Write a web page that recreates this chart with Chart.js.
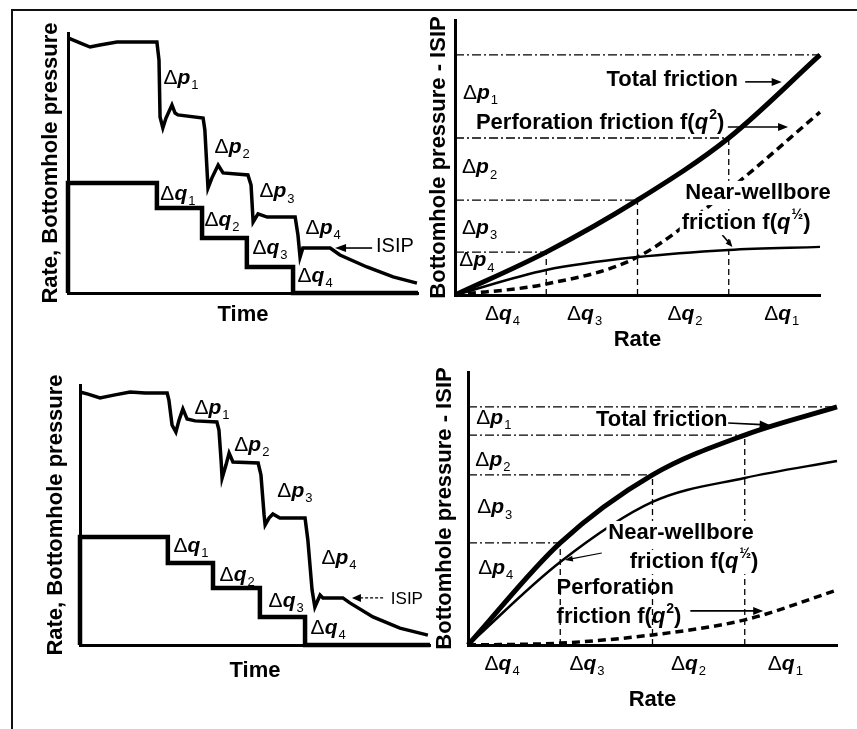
<!DOCTYPE html>
<html>
<head>
<meta charset="utf-8">
<script src="https://cdn.jsdelivr.net/npm/chart.js@4"></script>
<style>
  html, body { margin: 0; background: #fff; }
  body { width: 857px; height: 729px; position: relative; overflow: hidden; }
  #frame { position: absolute; left: 11px; top: 9px; width: 846px; height: 720px;
           border-left: 2px solid #111; border-top: 2px solid #111; }
  .panel { position: absolute; }
</style>
</head>
<body>
<div id="frame"></div>
<div class="panel" id="p1"><canvas id="c1"></canvas></div>
<div class="panel" id="p2"><canvas id="c2"></canvas></div>
<div class="panel" id="p3"><canvas id="c3"></canvas></div>
<div class="panel" id="p4"><canvas id="c4"></canvas></div>
<script>
// ---- data (arbitrary units) ----
// top-left: step-rate test, bottomhole pressure vs time
const timeTop = [0, 3.4, 6.3, 9.1, 14, 18.6, 25.4, 26, 26.3, 27.1, 28, 29.7, 30.6, 31.4, 38.6, 39.1, 40, 41.1, 42.9, 44.3,
                 51.4, 52.3, 52.9, 54.3, 56.9, 64.9, 65.7, 66.3, 67.1, 74.9, 77.7, 85.4, 92.9, 99.7];
const pressTop = [98.1, 96.2, 94.6, 95.4, 96.5, 96.5, 96.5, 89.6, 67.7, 63.5, 67.3, 72.3, 69.2, 68.5, 67.3, 62.7, 40.4, 44.2, 49.2, 46.2,
                  45.4, 41.5, 27.3, 30.4, 29.2, 29.2, 22.3, 13.8, 17.3, 17.3, 14.6, 10, 6.2, 3.8];
const stepTimeTop = [0, 0, 25.4, 38.3, 51.1, 64.3, 100];
const stepRateTop = [0, 42.3, 32.7, 21.2, 10, 0, 0];

// bottom-left: same test, second case
const timeBot = [0, 2.3, 5.7, 10, 14.3, 18.6, 24.9, 25.4, 26.3, 27.4, 28.3, 29.4, 30.6, 32.9, 39.1, 39.7, 40.3, 40.6, 41.7, 42.6,
                 43.7, 50.9, 51.7, 52.6, 52.9, 54, 55.1, 57.1, 64.3, 65.1, 66.3, 67.1, 68.6, 69.4, 75.1, 77.1, 83.7, 91.4, 99.4];
const pressBot = [97.3, 96.5, 95, 96.2, 97.3, 96.9, 96.9, 94.2, 84.6, 81.9, 86.5, 90.8, 86.9, 86.2, 85.8, 82.7, 71.2, 64.2, 69.2, 73.8,
                  70.4, 70, 65.4, 50, 46.2, 48.8, 50.4, 48.8, 48.8, 40.4, 21.2, 14.6, 19.2, 18.1, 18.1, 16.2, 10.8, 6.5, 3.8];
const stepTimeBot = [0, 0, 25.1, 38, 51.4, 64.3, 100];
const stepRateBot = [0, 41.5, 31.5, 21.9, 10.8, 0, 0];

// right panels: friction vs rate at the rate steps
const rateSteps = [0, 1, 2, 3, 4];
const totalTop = [0, 15.6, 34.5, 57.1, 87.3];
const nearTop  = [0, 9.1, 13.8, 16.4, 17.5];
const perfTop  = [0, 4, 13.8, 38.2, 66.5];
const totalBot = [0, 37.4, 62.3, 76.9, 87.2];
const nearBot  = [0, 30.4, 52.4, 61.2, 67.4];
const perfBot  = [0, 0.7, 3.7, 9.2, 20.1];

// rate tick labels (Δq4 at low rate ... Δq1 at high rate)
const rateTickLabels = ['Δ*q*_4', 'Δ*q*_3', 'Δ*q*_2', 'Δ*q*_1'];
const rateTickPosTop = [0.52, 1.42, 2.52, 3.58];
const rateTickPosBot = [0.37, 1.29, 2.39, 3.44];

// ---- layout ----
const FONT = '"Liberation Sans", Arial, Helvetica, sans-serif';
const TS = 22, LH = TS * 1.2;
const panels = {
  c1: { box: [20, 14, 432, 340],  area: [68, 33, 418, 293],  yTitle: 51,  xTitle: 315 },
  c2: { box: [415, 12, 852, 362], area: [455, 20, 820, 295], yTitle: 439, xTitle: 340 },
  c3: { box: [24, 364, 440, 718], area: [80, 385, 430, 645], yTitle: 56,  xTitle: 671 },
  c4: { box: [425, 362, 852, 725],area: [468, 372, 837, 645],yTitle: 445, xTitle: 700 }
};

const xy = (xs, ys) => xs.map((x, i) => ({ x: x, y: ys[i] }));

function line(data, width, dash, extra) {
  return Object.assign({ data: data, borderColor: '#000', borderWidth: width, borderDash: dash || [],
    pointRadius: 0, fill: false, tension: 0, clip: false }, extra || {});
}

function guides(q, tot) {
  const ds = [];
  for (let i = 1; i < q.length; i++) {
    ds.push(line([{ x: 0, y: tot[i] }, { x: q[i], y: tot[i] }], 1.3, [9, 3, 2, 3]));
    if (i < q.length - 1) ds.push(line([{ x: q[i], y: 0 }, { x: q[i], y: tot[i] }], 1.3, [6, 4]));
  }
  return ds;
}

// text with italic letters (*q*), subscripts (_1) and superscripts (^2)
function parts(str) {
  const out = [], re = /\*([^*]+)\*|_(\S)|\^(\S)/g;
  let last = 0, m;
  while ((m = re.exec(str))) {
    if (m.index > last) out.push({ t: str.slice(last, m.index), k: 'n' });
    out.push(m[1] ? { t: m[1], k: 'i' } : m[2] ? { t: m[2], k: 'sub' } : { t: m[3], k: 'sup' });
    last = re.lastIndex;
  }
  if (last < str.length) out.push({ t: str.slice(last), k: 'n' });
  return out;
}

function drawRich(ctx, str, cx, cy, o) {
  const size = o.size || 21, w = o.weight || 'normal';
  const fontOf = k => k === 'i' ? `italic bold ${size}px ${FONT}`
    : k === 'n' ? `${w} ${size}px ${FONT}` : `${w} ${Math.round(size * 0.62)}px ${FONT}`;
  const ps = parts(str);
  let total = 0;
  ps.forEach(p => { ctx.font = fontOf(p.k); p.w = ctx.measureText(p.t).width + (p.k === 'i' ? 1 : 0); total += p.w; });
  let x = o.align === 'left' ? cx : cx - total / 2;
  if (o.bg) { ctx.fillStyle = '#fff'; ctx.fillRect(x - 2, cy - size * 0.55, total + 4, size * 1.1); }
  ctx.fillStyle = '#000';
  ctx.textAlign = 'left';
  ctx.textBaseline = 'middle';
  ps.forEach(p => {
    ctx.font = fontOf(p.k);
    const dy = p.k === 'sub' ? size * 0.35 : p.k === 'sup' ? -size * 0.35 : 0;
    ctx.fillText(p.t, x, cy + dy);
    x += p.w;
  });
}

function drawArrow(ctx, x1, y1, x2, y2, a) {
  ctx.save();
  ctx.strokeStyle = '#000'; ctx.fillStyle = '#000';
  ctx.lineWidth = a.width || 1.6;
  ctx.setLineDash(a.dash || []);
  const ang = Math.atan2(y2 - y1, x2 - x1), hl = a.head || 10, hw = a.headW || 4;
  ctx.beginPath(); ctx.moveTo(x1, y1);
  ctx.lineTo(x2 - Math.cos(ang) * hl * 0.8, y2 - Math.sin(ang) * hl * 0.8); ctx.stroke();
  ctx.setLineDash([]);
  ctx.beginPath(); ctx.moveTo(x2, y2);
  ctx.lineTo(x2 - Math.cos(ang) * hl - Math.sin(ang) * hw, y2 - Math.sin(ang) * hl + Math.cos(ang) * hw);
  ctx.lineTo(x2 - Math.cos(ang) * hl + Math.sin(ang) * hw, y2 - Math.sin(ang) * hl - Math.cos(ang) * hw);
  ctx.closePath(); ctx.fill();
  ctx.restore();
}

const notesPlugin = {
  id: 'notes',
  afterDatasetsDraw(chart, args, opts) {
    const { ctx, scales: { x, y } } = chart;
    ctx.save();
    (opts.arrows || []).forEach(a => drawArrow(ctx, x.getPixelForValue(a.from[0]), y.getPixelForValue(a.from[1]),
      x.getPixelForValue(a.to[0]), y.getPixelForValue(a.to[1]), a));
    (opts.labels || []).forEach(l => drawRich(ctx, l.t, x.getPixelForValue(l.at[0]), y.getPixelForValue(l.at[1]), l));
    if (opts.ticks) opts.ticks.pos.forEach((v, i) =>
      drawRich(ctx, opts.ticks.labels[i], x.getPixelForValue(v), x.top + opts.ticks.offset, {}));
    ctx.restore();
  }
};

function makeChart(id, datasets, xMax, yText, xText, notes) {
  const p = panels[id];
  const [bx0, by0, bx1, by1] = p.box;
  const wrap = document.getElementById(id).parentNode;
  Object.assign(wrap.style, { left: bx0 + 'px', top: by0 + 'px', width: (bx1 - bx0) + 'px', height: (by1 - by0) + 'px' });
  const axisLeft = p.yTitle - 4 - LH / 2;
  const yPadB = p.area[0] - axisLeft - LH - 4;
  const xPadT = p.xTitle - p.area[3] - LH / 2;
  const scaleBottom = p.xTitle + LH / 2 + 4;
  const titleFont = { family: FONT, size: TS, weight: 'bold', lineHeight: 1.2 };
  const axis = (max, text, pad) => ({
    type: 'linear', min: 0, max: max,
    ticks: { display: false },
    grid: { display: false, drawTicks: false },
    border: { display: true, width: 3, color: '#000' },
    title: { display: true, text: text, color: '#000', font: titleFont, padding: pad }
  });
  return new Chart(document.getElementById(id), {
    type: 'line',
    data: { datasets: datasets },
    options: {
      responsive: true, maintainAspectRatio: false, animation: false, events: [],
      layout: { autoPadding: false, padding: { left: axisLeft - bx0, top: p.area[1] - by0, right: bx1 - p.area[2], bottom: by1 - scaleBottom } },
      scales: {
        x: axis(xMax, xText, { top: xPadT, bottom: 4 }),
        y: axis(100, yText, { top: 4, bottom: yPadB })
      },
      plugins: { legend: { display: false }, tooltip: { enabled: false }, notes: notes }
    },
    plugins: [notesPlugin]
  });
}

// top-left
makeChart('c1', [
  line(xy(timeTop, pressTop), 3.5),
  line(xy(stepTimeTop, stepRateTop), 4.5, [], { stepped: 'before' })
], 100, 'Rate, Bottomhole pressure', 'Time', {
  labels: [
    { t: 'Δ*p*_1', at: [32.3, 82.5] }, { t: 'Δ*p*_2', at: [46.9, 56] },
    { t: 'Δ*p*_3', at: [59.7, 39] },   { t: 'Δ*p*_4', at: [72.9, 25] },
    { t: 'Δ*q*_1', at: [31.4, 38] },   { t: 'Δ*q*_2', at: [44, 28] },
    { t: 'Δ*q*_3', at: [57.7, 17.2] }, { t: 'Δ*q*_4', at: [70.6, 6.5] },
    { t: 'ISIP', at: [93.4, 17.7], size: 20 }
  ],
  arrows: [{ from: [86.9, 17.3], to: [76.3, 17.3], head: 11, headW: 4 }]
});

// top-right
makeChart('c2', [
  line(xy(rateSteps, totalTop), 5, [], { cubicInterpolationMode: 'monotone' }),
  line(xy(rateSteps, nearTop), 2.5, [], { cubicInterpolationMode: 'monotone' }),
  line(xy(rateSteps, perfTop), 3.5, [8, 5], { cubicInterpolationMode: 'monotone' })
].concat(guides(rateSteps, totalTop)), 4, 'Bottomhole pressure - ISIP', 'Rate', {
  labels: [
    { t: 'Δ*p*_1', at: [0.28, 73.5] }, { t: 'Δ*p*_2', at: [0.27, 46.3] },
    { t: 'Δ*p*_3', at: [0.27, 24.4] }, { t: 'Δ*p*_4', at: [0.24, 12.5] },
    { t: 'Total friction', at: [2.38, 78.2], size: 22, weight: 'bold' },
    { t: 'Perforation friction f(*q*^2)', at: [1.59, 62.5], size: 22, weight: 'bold' },
    { t: 'Near-wellbore', at: [3.32, 37.1], size: 22, weight: 'bold', bg: true },
    { t: 'friction f(*q*^½)', at: [3.19, 26.2], size: 22, weight: 'bold', bg: true }
  ],
  arrows: [
    { from: [3.18, 77.5], to: [3.58, 77.5] },
    { from: [2.99, 61.1], to: [3.65, 61.1] },
    { from: [2.93, 21.8], to: [3.04, 17.5], head: 7, headW: 3 }
  ],
  ticks: { pos: rateTickPosTop, labels: rateTickLabels, offset: 19 }
});

// bottom-left
makeChart('c3', [
  line(xy(timeBot, pressBot), 3.5),
  line(xy(stepTimeBot, stepRateBot), 4.5, [], { stepped: 'before' })
], 100, 'Rate, Bottomhole pressure', 'Time', {
  labels: [
    { t: 'Δ*p*_1', at: [37.7, 91] },   { t: 'Δ*p*_2', at: [49.1, 77] },
    { t: 'Δ*p*_3', at: [61.4, 59.3] }, { t: 'Δ*p*_4', at: [74, 33.5] },
    { t: 'Δ*q*_1', at: [31.7, 38] },   { t: 'Δ*q*_2', at: [44.9, 27] },
    { t: 'Δ*q*_3', at: [58.9, 17] },   { t: 'Δ*q*_4', at: [70.9, 6.5] },
    { t: 'ISIP', at: [93.4, 17.7], size: 17 }
  ],
  arrows: [{ from: [86.6, 18.1], to: [77.7, 18.1], dash: [3, 2], width: 1.2, head: 9, headW: 4 }]
});

// bottom-right
makeChart('c4', [
  line(xy(rateSteps, totalBot), 5, [], { cubicInterpolationMode: 'monotone' }),
  line(xy(rateSteps, nearBot), 2.5, [], { cubicInterpolationMode: 'monotone' }),
  line(xy(rateSteps, perfBot), 3.5, [8, 5], { cubicInterpolationMode: 'monotone' })
].concat(guides(rateSteps, totalBot)), 4, 'Bottomhole pressure - ISIP', 'Rate', {
  labels: [
    { t: 'Δ*p*_1', at: [0.28, 83.2] }, { t: 'Δ*p*_2', at: [0.27, 67.8] },
    { t: 'Δ*p*_3', at: [0.29, 50.3] }, { t: 'Δ*p*_4', at: [0.3, 28.3] },
    { t: 'Total friction', at: [2.1, 82.4], size: 22, weight: 'bold' },
    { t: 'Near-wellbore', at: [2.31, 41], size: 22, weight: 'bold', bg: true },
    { t: 'friction f(*q*^½)', at: [2.45, 30.4], size: 22, weight: 'bold', bg: true },
    { t: 'Perforation', at: [0.96, 20.9], size: 22, weight: 'bold', align: 'left' },
    { t: 'friction f(*q*^2)', at: [0.96, 10.3], size: 22, weight: 'bold', align: 'left' }
  ],
  arrows: [
    { from: [2.82, 81.3], to: [3.27, 80.6] },
    { from: [1.45, 33.7], to: [1.05, 31.1], width: 1.2, head: 8, headW: 3 },
    { from: [2.41, 12.5], to: [3.2, 12.5] }
  ],
  ticks: { pos: rateTickPosBot, labels: rateTickLabels, offset: 19 }
});
</script>
</body>
</html>
